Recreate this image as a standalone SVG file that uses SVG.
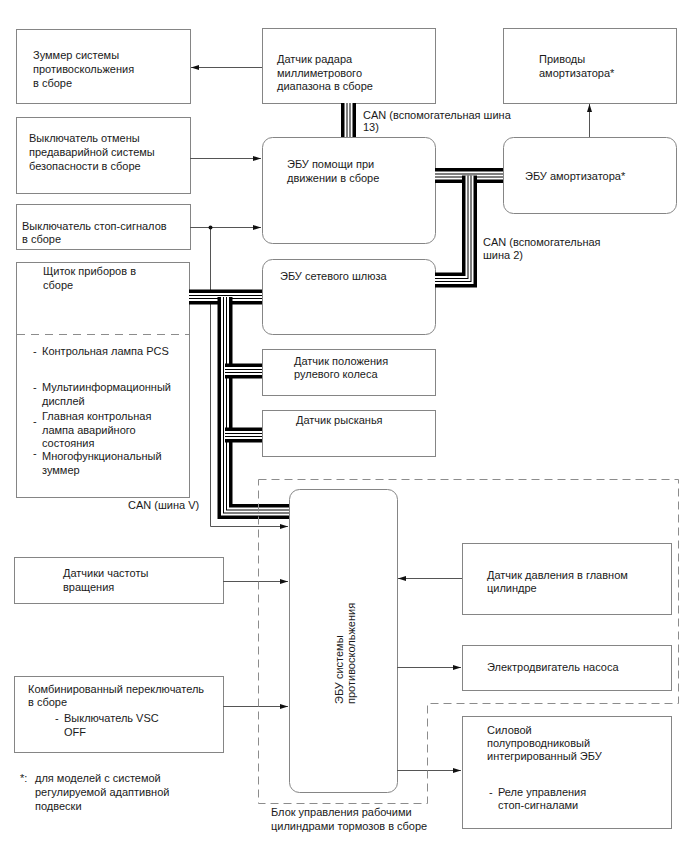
<svg xmlns="http://www.w3.org/2000/svg" xmlns:xlink="http://www.w3.org/1999/xlink" width="688" height="852" viewBox="0 0 688 852">
<style>
.box{fill:#fff;stroke:#858585;stroke-width:1}
.t{font-family:"Liberation Sans",Arial,sans-serif;font-size:11px;fill:#1a1a1a}
.ln{stroke:#555;stroke-width:1;fill:none}
.dsh{stroke:#8c8c8c;stroke-width:1;stroke-dasharray:8 5;fill:none}
.b1{stroke:#000;stroke-width:15;fill:none}
.b2{stroke:#fff;stroke-width:8;fill:none}
.b3{stroke:#000;stroke-width:4;fill:none}
.b4{stroke:#fff;stroke-width:2;fill:none}
</style>
<defs>
<marker id="ah" viewBox="0 0 8 6" refX="8" refY="3" markerWidth="8" markerHeight="6" orient="auto" markerUnits="userSpaceOnUse"><path d="M0,0.5 L8,3 L0,5.5 z" fill="#111"/></marker>
<path id="bVa" d="M189,297 H262"/>
<path id="bVb" d="M225,297 V511.5 H289"/>
<path id="bVc" d="M225,371 H262"/>
<path id="bVd" d="M225,435 H262"/>
<path id="b13" d="M348.5,103 V137"/>
<path id="b2a" d="M435,175.5 H503"/>
<path id="b2b" d="M469.5,175.5 V280 H435"/>
</defs>
<rect width="688" height="852" fill="#fff"/>

<g id="n1"><rect class="box" x="16.5" y="29.5" width="174" height="74"/>
<text class="t" x="33" y="59">Зуммер системы</text><text class="t" x="33" y="73">противоскольжения</text><text class="t" x="33" y="87">в сборе</text></g>
<g id="n2"><rect class="box" x="262.5" y="28.5" width="173" height="75"/>
<text class="t" x="277" y="63">Датчик радара</text><text class="t" x="277" y="77">миллиметрового</text><text class="t" x="277" y="90">диапазона в сборе</text></g>
<g id="n3"><rect class="box" x="503.5" y="28.5" width="173" height="75"/>
<text class="t" x="539" y="63">Приводы</text><text class="t" x="539" y="77">амортизатора*</text></g>
<g id="n4"><rect class="box" x="503.5" y="137.5" width="173" height="76" rx="10"/>
<text class="t" x="525" y="180">ЭБУ амортизатора*</text></g>
<g id="n5"><rect class="box" x="16.5" y="117.5" width="174" height="76"/>
<text class="t" x="29" y="142">Выключатель отмены</text><text class="t" x="29" y="156">предаварийной системы</text><text class="t" x="29" y="170">безопасности в сборе</text></g>
<g id="n6"><rect class="box" x="16.5" y="204.5" width="174" height="45"/>
<text class="t" x="22" y="230">Выключатель стоп-сигналов</text><text class="t" x="22" y="243">в сборе</text></g>
<g id="n7"><rect class="box" x="262.5" y="137.5" width="173" height="106" rx="10"/>
<text class="t" x="287" y="168">ЭБУ помощи при</text><text class="t" x="287" y="182">движении в сборе</text></g>
<g id="n8"><rect class="box" x="262.5" y="259.5" width="173" height="75" rx="10"/>
<text class="t" x="280" y="280">ЭБУ сетевого шлюза</text></g>
<g id="n9"><rect class="box" x="16.5" y="262.5" width="173" height="235"/>
<line x1="17" y1="334.5" x2="189" y2="334.5" stroke="#8c8c8c" stroke-dasharray="8 6"/>
<text class="t" x="43" y="275">Щиток приборов в</text><text class="t" x="43" y="289">сборе</text>
<text class="t" x="33" y="355">-</text><text class="t" x="42" y="355">Контрольная лампа PCS</text>
<text class="t" x="33" y="391">-</text><text class="t" x="42" y="391">Мультиинформационный</text><text class="t" x="42" y="405">дисплей</text>
<text class="t" x="33" y="425">-</text><text class="t" x="42" y="420">Главная контрольная</text><text class="t" x="42" y="434">лампа аварийного</text><text class="t" x="42" y="447">состояния</text>
<text class="t" x="33" y="457">-</text><text class="t" x="42" y="460">Многофункциональный</text><text class="t" x="42" y="474">зуммер</text></g>
<g id="n10"><rect class="box" x="262.5" y="349.5" width="173" height="46"/>
<text class="t" x="294" y="365">Датчик положения</text><text class="t" x="294" y="378">рулевого колеса</text></g>
<g id="n11"><rect class="box" x="262.5" y="410.5" width="173" height="46"/>
<text class="t" x="296" y="424">Датчик рысканья</text></g>
<g id="n12"><rect class="box" x="289.5" y="489.5" width="108" height="303" rx="10"/>
<text class="t" transform="translate(342.5,704) rotate(-90)">ЭБУ системы</text>
<text class="t" transform="translate(354.5,704) rotate(-90)">противоскольжения</text></g>
<g id="n13"><rect class="box" x="462.5" y="543.5" width="209" height="71"/>
<text class="t" x="487" y="579">Датчик давления в главном</text><text class="t" x="487" y="592">цилиндре</text></g>
<g id="n14"><rect class="box" x="462.5" y="645.5" width="209" height="45"/>
<text class="t" x="487" y="671">Электродвигатель насоса</text></g>
<g id="n15"><rect class="box" x="462.5" y="716.5" width="209" height="112"/>
<text class="t" x="487" y="734">Силовой</text><text class="t" x="487" y="747">полупроводниковый</text><text class="t" x="487" y="760">интегрированный ЭБУ</text>
<text class="t" x="489" y="796">-</text><text class="t" x="498" y="796">Реле управления</text><text class="t" x="498" y="809">стоп-сигналами</text></g>
<g id="n16"><rect class="box" x="14.5" y="557.5" width="209" height="46"/>
<text class="t" x="63" y="577">Датчики частоты</text><text class="t" x="63" y="591">вращения</text></g>
<g id="n17"><rect class="box" x="14.5" y="676.5" width="209" height="76"/>
<text class="t" x="28" y="693">Комбинированный переключатель</text><text class="t" x="28" y="706">в сборе</text>
<text class="t" x="55" y="722">-</text><text class="t" x="64" y="722">Выключатель VSC</text><text class="t" x="64" y="736">OFF</text></g>

<g id="connectors">
<path class="ln" d="M262,67.5 H191" marker-end="url(#ah)"/>
<path class="ln" d="M190,158.5 H261" marker-end="url(#ah)"/>
<path class="ln" d="M190,227.5 H261" marker-end="url(#ah)"/>
<path class="ln" d="M210.5,227.5 V526.5 H288" marker-end="url(#ah)"/>
<circle cx="210.5" cy="227.5" r="2" fill="#111"/>
<path class="ln" d="M589.5,137 V104" marker-end="url(#ah)"/>
<path class="ln" d="M223,581.5 H288" marker-end="url(#ah)"/>
<path class="ln" d="M223,706.5 H288" marker-end="url(#ah)"/>
<path class="ln" d="M462,578.5 H398" marker-end="url(#ah)"/>
<path class="ln" d="M397,667.5 H461" marker-end="url(#ah)"/>
<path class="ln" d="M397,770.5 H461" marker-end="url(#ah)"/>
<g id="busV">
<use xlink:href="#bVa" class="b1"/><use xlink:href="#bVa" class="b2"/><use xlink:href="#bVa" class="b3"/><use xlink:href="#bVa" class="b4"/>
<use xlink:href="#bVb" class="b1"/><use xlink:href="#bVb" class="b2"/><use xlink:href="#bVb" class="b3"/><use xlink:href="#bVb" class="b4"/>
<use xlink:href="#bVc" class="b1"/><use xlink:href="#bVc" class="b2"/><use xlink:href="#bVc" class="b3"/><use xlink:href="#bVc" class="b4"/>
<use xlink:href="#bVd" class="b1"/><use xlink:href="#bVd" class="b2"/><use xlink:href="#bVd" class="b3"/><use xlink:href="#bVd" class="b4"/>
</g>
<g id="bus13">
<use xlink:href="#b13" class="b1"/><use xlink:href="#b13" class="b2"/><use xlink:href="#b13" class="b3"/><use xlink:href="#b13" class="b4"/>
</g>
<g id="bus2">
<use xlink:href="#b2a" class="b1"/><use xlink:href="#b2a" class="b2"/><use xlink:href="#b2a" class="b3"/><use xlink:href="#b2a" class="b4"/>
<use xlink:href="#b2b" class="b1"/><use xlink:href="#b2b" class="b2"/><use xlink:href="#b2b" class="b3"/><use xlink:href="#b2b" class="b4"/>
</g>
<text class="t" x="363" y="119">CAN (вспомогательная шина</text><text class="t" x="363" y="131">13)</text>
<text class="t" x="483" y="246">CAN (вспомогательная</text><text class="t" x="483" y="259">шина 2)</text>
<text class="t" x="128" y="509">CAN (шина V)</text>
</g>

<g id="brake-block">
<path class="dsh" d="M258.5,479.5 H678.5 V703.5 H427.5 V803.5 H258.5 Z"/>
<text class="t" x="271" y="816">Блок управления рабочими</text><text class="t" x="271" y="830">цилиндрами тормозов в сборе</text>
</g>
<g id="footnote">
<text class="t" x="20" y="782">*:</text>
<text class="t" x="35" y="782">для моделей с системой</text><text class="t" x="35" y="796">регулируемой адаптивной</text><text class="t" x="35" y="810">подвески</text>
</g>
</svg>
